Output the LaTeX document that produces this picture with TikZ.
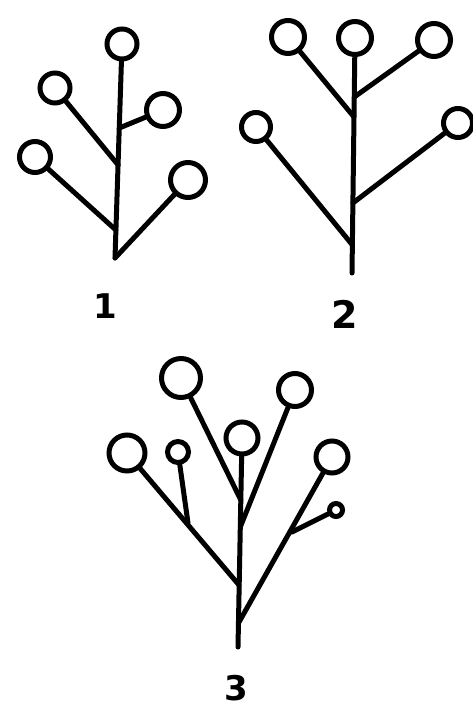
\documentclass[tikz,border=0pt]{standalone}
\usepackage{fontspec}
\newfontfamily\labfont{DejaVu Sans}
\begin{document}
\begin{tikzpicture}[x=1pt,y=-1pt,
  br/.style={line width=5pt, line cap=round},
  bud/.style={circle, draw, line width=5pt, inner sep=0pt, minimum size=#1},
  lab/.style={font=\labfont\bfseries\fontsize{34}{34}\selectfont, inner sep=0pt}]
\useasboundingbox (0,0) rectangle (473,711);
% ---------- figure 1 ----------
\coordinate (b1) at (115,258);
\coordinate (j1a) at (115.9,230);
\coordinate (j1b) at (118.1,165);
\coordinate (j1c) at (119.3,128);
\node[bud=30pt] (c1t) at (122,44) {};
\node[bud=30pt] (c1lu) at (55,88) {};
\node[bud=33pt] (c1ru) at (163,110) {};
\node[bud=31pt] (c1ll) at (35,157) {};
\node[bud=35pt] (c1rl) at (188,180) {};
\draw[br] (b1) -- (c1t);
\draw[br] (j1a) -- (c1ll);
\draw[br] (j1b) -- (c1lu);
\draw[br] (j1c) -- (c1ru);
\draw[br] (b1) -- (c1rl);
\node[lab] (l1) at (105,306) {1};
% ---------- figure 2 ----------
\coordinate (b2) at (352,273);
\coordinate (j2a) at (352.4,245);
\coordinate (j2b) at (352.9,203);
\coordinate (j2c) at (354,117);
\coordinate (j2d) at (354.3,97);
\node[bud=33pt] (c2t) at (355,38) {};
\node[bud=33pt] (c2lt) at (288,37) {};
\node[bud=33pt] (c2rt) at (434,40) {};
\node[bud=29pt] (c2ll) at (256,127) {};
\node[bud=29pt] (c2rl) at (458,123) {};
\draw[br] (b2) -- (c2t);
\draw[br] (j2a) -- (c2ll);
\draw[br] (j2b) -- (c2rl);
\draw[br] (j2c) -- (c2lt);
\draw[br] (j2d) -- (c2rt);
\node[lab, font=\labfont\bfseries\fontsize{38}{38}\selectfont] (l2) at (345,314) {2};
% ---------- figure 3 ----------
\coordinate (b3) at (238,647);
\coordinate (j3a) at (238.5,623);
\coordinate (j3b) at (239,585);
\coordinate (j3c) at (240.3,527);
\coordinate (j3d) at (240.8,500);
\coordinate (j3e) at (292,532);
\coordinate (j3f) at (188,523);
\node[bud=32pt] (c3m) at (242,438) {};
\node[bud=36pt] (c3ll) at (127,453) {};
\node[bud=21pt] (c3ls) at (178,452) {};
\node[bud=39pt] (c3lt) at (181,378) {};
\node[bud=33pt] (c3rt) at (295,390) {};
\node[bud=32pt] (c3r) at (332,457) {};
\node[bud=13pt] (c3rs) at (336,510) {};
\draw[br] (b3) -- (c3m);
\draw[br] (j3a) -- (c3r);
\draw[br] (j3e) -- (c3rs);
\draw[br] (j3b) -- (c3ll);
\draw[br] (j3f) -- (c3ls);
\draw[br] (j3d) -- (c3lt);
\draw[br] (j3c) -- (c3rt);
\node[lab] (l3) at (236,688) {3};
\end{tikzpicture}
\end{document}
